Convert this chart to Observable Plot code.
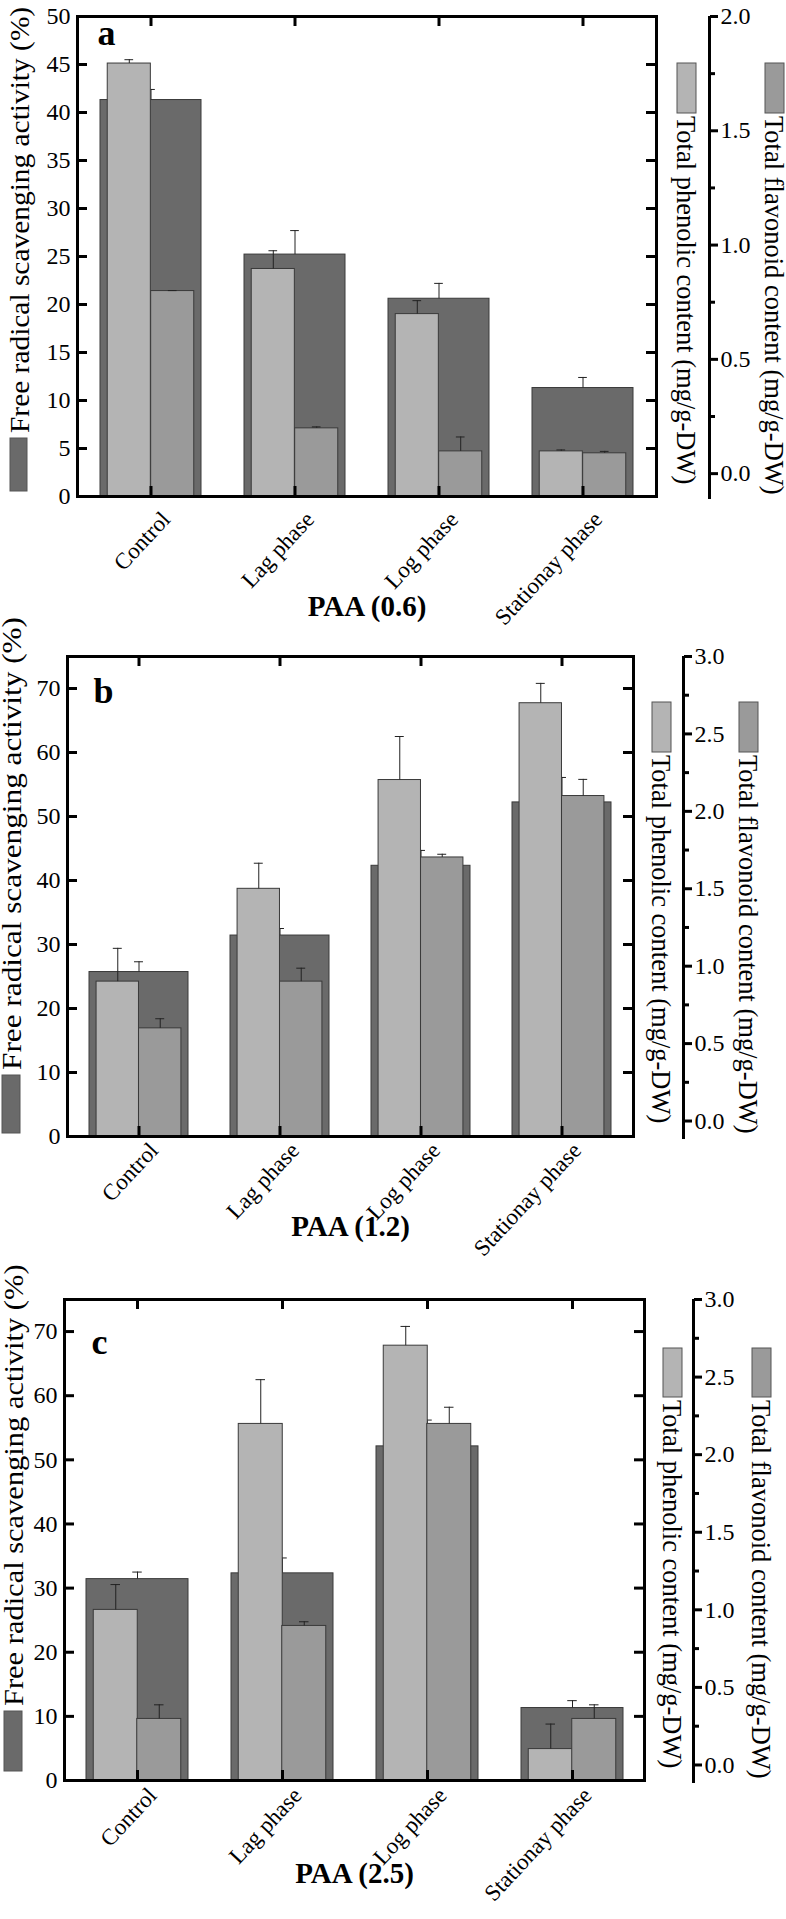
<!DOCTYPE html>
<html>
<head>
<meta charset="utf-8">
<script src="https://cdn.jsdelivr.net/npm/d3@7"></script>
<script src="https://cdn.jsdelivr.net/npm/@observablehq/plot@0.6"></script>
<style>
  html, body { margin: 0; padding: 0; background: #fff; }
  #chart { width: 786px; }
  #chart svg { display: block; }
</style>
</head>
<body>
<div id="chart"></div>
<script>
// ---------- data ----------
const phases = ["Control", "Lag phase", "Log phase", "Stationay phase"];

// Panel a : PAA (0.6)
const a_radical      = [41.3, 25.2, 20.6, 11.3];
const a_radicalErr   = [1.1, 2.5, 1.6, 1.1];
const a_phenolic     = [45.1, 23.7, 19.0, 4.7];
const a_phenolicErr  = [0.4, 1.9, 1.4, 0.15];
const a_flavonoid    = [21.4, 7.1, 4.7, 4.5];
const a_flavonoidErr = [0.05, 0.15, 1.5, 0.2];

// Panel b : PAA (1.2)
const b_radical      = [25.7, 31.4, 42.3, 52.2];
const b_radicalErr   = [1.6, 1.1, 2.4, 3.9];
const b_phenolic     = [24.2, 38.7, 55.7, 67.7];
const b_phenolicErr  = [5.2, 4.0, 6.8, 3.1];
const b_flavonoid    = [16.9, 24.2, 43.6, 53.2];
const b_flavonoidErr = [1.5, 2.1, 0.5, 2.6];

// Panel c : PAA (2.5)
const c_radical      = [31.4, 32.3, 52.1, 11.3];
const c_radicalErr   = [1.1, 2.4, 4.1, 1.15];
const c_phenolic     = [26.6, 55.6, 67.8, 4.9];
const c_phenolicErr  = [3.95, 6.9, 3.0, 3.9];
const c_flavonoid    = [9.6, 24.1, 55.6, 9.6];
const c_flavonoidErr = [2.2, 0.65, 2.6, 2.2];

// tick labels
const yTicksA = [0, 5, 10, 15, 20, 25, 30, 35, 40, 45, 50];
const yTicksBC = [0, 10, 20, 30, 40, 50, 60, 70];
const flavTicksA = [0, 0.5, 1.0, 1.5, 2.0];
const flavMinorA = [0.25, 0.75, 1.25, 1.75];
const flavTicksBC = [0, 0.5, 1.0, 1.5, 2.0, 2.5, 3.0];
const flavMinorBC = [0.25, 0.75, 1.25, 1.75, 2.25, 2.75];

const titleLeft = "Free radical scavenging activity (%)";
const titlePhen = "Total phenolic content (mg/g-DW)";
const titleFlav = "Total flavonoid content (mg/g-DW)";

// ---------- style ----------
const FONT = "'Liberation Serif', 'Times New Roman', serif";
const DARK = "#6a6a6a", LIGHT = "#b4b4b4", MID = "#9a9a9a";
const EDGE = "#3a3a3a", ERR = "#222";

function panel(cfg) {
  const {L} = cfg;
  const W = 786;
  const fw = W - L.left - L.right;
  const fh = L.height - L.top - L.bottom;
  const step = fw / phases.length;
  const bw = step * 0.7;
  const cap = 9;
  const rows = phases.map((p, i) => ({
    phase: p,
    radical: cfg.radical[i], radicalTop: cfg.radical[i] + cfg.radicalErr[i],
    phenolic: cfg.phenolic[i], phenolicTop: cfg.phenolic[i] + cfg.phenolicErr[i],
    flavonoid: cfg.flavonoid[i], flavonoidTop: cfg.flavonoid[i] + cfg.flavonoidErr[i]
  }));
  const [f0, f1] = cfg.flavDomain;
  const toY = v => (v - f0) / (f1 - f0) * cfg.yMax;
  const toFlav = y => y / cfg.yMax * (f1 - f0) + f0;

  const svg = Plot.plot({
    width: W,
    height: L.height,
    marginTop: L.top, marginBottom: L.bottom, marginLeft: L.left, marginRight: L.right,
    style: {fontFamily: FONT, color: "#000", background: "#fff", overflow: "visible"},
    x: {domain: phases, paddingInner: 0.3, paddingOuter: 0.15, axis: null},
    y: {domain: [0, cfg.yMax], axis: null},
    marks: [
      // free radical scavenging (wide dark bars)
      Plot.barY(rows, {x: "phase", y: "radical", fill: DARK, stroke: EDGE, strokeWidth: 1}),
      Plot.ruleX(rows, {x: "phase", y1: "radical", y2: "radicalTop", stroke: ERR, strokeWidth: 1}),
      Plot.tickY(rows, {x: "phase", y: "radicalTop", insetLeft: bw / 2 - cap / 2, insetRight: bw / 2 - cap / 2, stroke: ERR, strokeWidth: 1}),
      // total phenolic (light, left half)
      Plot.barY(rows, {x: "phase", y: "phenolic", fill: LIGHT, stroke: EDGE, strokeWidth: 1,
        insetLeft: 0.05 * step, insetRight: 0.35 * step}),
      Plot.ruleX(rows, {x: "phase", y1: "phenolic", y2: "phenolicTop", dx: -0.15 * step, stroke: ERR, strokeWidth: 1}),
      Plot.tickY(rows, {x: "phase", y: "phenolicTop", insetLeft: 0.2 * step - cap / 2, insetRight: 0.5 * step - cap / 2, stroke: ERR, strokeWidth: 1}),
      // total flavonoid (medium, right half)
      Plot.barY(rows, {x: "phase", y: "flavonoid", fill: MID, stroke: EDGE, strokeWidth: 1,
        insetLeft: 0.35 * step, insetRight: 0.05 * step}),
      Plot.ruleX(rows, {x: "phase", y1: "flavonoid", y2: "flavonoidTop", dx: 0.15 * step, stroke: ERR, strokeWidth: 1}),
      Plot.tickY(rows, {x: "phase", y: "flavonoidTop", insetLeft: 0.5 * step - cap / 2, insetRight: 0.2 * step - cap / 2, stroke: ERR, strokeWidth: 1}),
      // frame
      Plot.frame({stroke: "#000", strokeWidth: 3}),
      // inward ticks
      Plot.tickY(cfg.yTicks, {y: d => d, insetRight: fw - 10, stroke: "#000", strokeWidth: 3}),
      Plot.tickY(cfg.yTicks, {y: d => d, insetLeft: fw - 10, stroke: "#000", strokeWidth: 3}),
      Plot.tickX(phases, {x: d => d, insetTop: fh - 10, stroke: "#000", strokeWidth: 3}),
      Plot.tickX(phases, {x: d => d, insetBottom: fh - 10, stroke: "#000", strokeWidth: 3}),
      // left axis labels
      Plot.axisY(cfg.yTicks, {anchor: "left", tickSize: 0, tickPadding: 7, fontSize: 24, label: null}),
      // category labels
      Plot.axisX({anchor: "bottom", tickSize: 0, tickPadding: L.xPad, tickRotate: -47, fontSize: 23, label: null, dx: 15}),
      // flavonoid axis (offset right axis)
      Plot.ruleX([0], {x: null, dx: fw / 2 + L.axisOff, insetBottom: -3, stroke: "#000", strokeWidth: 3}),
      Plot.axisY(cfg.flavTicks.map(toY), {anchor: "right", dx: L.axisOff, tickSize: 8, tickPadding: 3, strokeWidth: 3,
        fontSize: 24, tickFormat: d => toFlav(d).toFixed(1), label: null}),
      Plot.axisY(cfg.flavMinor.map(toY), {anchor: "right", dx: L.axisOff, tickSize: 5, strokeWidth: 3,
        tickFormat: () => "", label: null}),
      // panel letter and group title
      Plot.text([cfg.label], {text: d => d, frameAnchor: "top-left", lineAnchor: "top", textAnchor: "start",
        dx: L.labelDx, dy: L.labelDy, fontSize: 36, fontWeight: "bold"}),
      Plot.text([cfg.title], {text: d => d, frameAnchor: "bottom", lineAnchor: "middle", dy: L.titleDy,
        fontSize: 29, fontWeight: "bold"})
    ]
  });

  // legend-style axis titles with swatches
  const g = d3.select(svg).append("g").attr("font-family", FONT);
  const sw = (x, y, w, h, fill) => g.append("rect").attr("x", x).attr("y", y).attr("width", w).attr("height", h)
    .attr("fill", fill).attr("stroke", "#555").attr("stroke-width", 1);
  const vt = (x, y, rot, stretch, txt, size) => g.append("text")
    .attr("transform", `translate(${x},${y}) rotate(${rot}) scale(${stretch},1)`)
    .attr("dy", "0.35em").attr("font-size", size).attr("text-anchor", "start").attr("fill", "#000").text(txt);

  const lg = L.leg;
  sw(lg.lx, lg.ly, lg.lw, lg.lh, DARK);
  vt(lg.lx + lg.lw / 2 + 1, lg.ly - 5, -90, lg.lstretch, titleLeft, 26.5);
  sw(lg.px, lg.ry, lg.rw, lg.rh, LIGHT);
  vt(lg.px + lg.rw / 2, lg.ry + lg.rh + 3, 90, 1, titlePhen, 26.5);
  sw(lg.fx, lg.ry, lg.rw, lg.rh, MID);
  vt(lg.fx + lg.rw / 2, lg.ry + lg.rh + 3, 90, 1, titleFlav, 26.5);
  return svg;
}

const chart = document.getElementById("chart");
chart.append(panel({
  label: "a", title: "PAA (0.6)",
  radical: a_radical, radicalErr: a_radicalErr, phenolic: a_phenolic, phenolicErr: a_phenolicErr,
  flavonoid: a_flavonoid, flavonoidErr: a_flavonoidErr,
  yMax: 50, yTicks: yTicksA, flavDomain: [-0.1, 2.0], flavTicks: flavTicksA, flavMinor: flavMinorA,
  L: {height: 640, top: 16, bottom: 144, left: 77, right: 130, axisOff: 53, xPad: 19,
      labelDx: 20, labelDy: 3, titleDy: 110,
      leg: {lx: 10, ly: 438, lw: 17, lh: 53, lstretch: 1.11, px: 677, fx: 765, ry: 63, rw: 19, rh: 50}}
}));
chart.append(panel({
  label: "b", title: "PAA (1.2)",
  radical: b_radical, radicalErr: b_radicalErr, phenolic: b_phenolic, phenolicErr: b_phenolicErr,
  flavonoid: b_flavonoid, flavonoidErr: b_flavonoidErr,
  yMax: 75, yTicks: yTicksBC, flavDomain: [-0.1, 3.0], flavTicks: flavTicksBC, flavMinor: flavMinorBC,
  L: {height: 640, top: 16, bottom: 144, left: 67, right: 153, axisOff: 50, xPad: 10,
      labelDx: 26, labelDy: 21, titleDy: 90,
      leg: {lx: 2, ly: 435, lw: 18, lh: 58, lstretch: 1.18, px: 652, fx: 739, ry: 62, rw: 19, rh: 50}}
}));
chart.append(panel({
  label: "c", title: "PAA (2.5)",
  radical: c_radical, radicalErr: c_radicalErr, phenolic: c_phenolic, phenolicErr: c_phenolicErr,
  flavonoid: c_flavonoid, flavonoidErr: c_flavonoidErr,
  yMax: 75, yTicks: yTicksBC, flavDomain: [-0.1, 3.0], flavTicks: flavTicksBC, flavMinor: flavMinorBC,
  L: {height: 639, top: 19, bottom: 139, left: 64, right: 142, axisOff: 49, xPad: 11,
      labelDx: 27, labelDy: 29, titleDy: 93,
      leg: {lx: 4, ly: 431, lw: 18, lh: 60, lstretch: 1.15, px: 663, fx: 752, ry: 68, rw: 19, rh: 49}}
}));
</script>
</body>
</html>
